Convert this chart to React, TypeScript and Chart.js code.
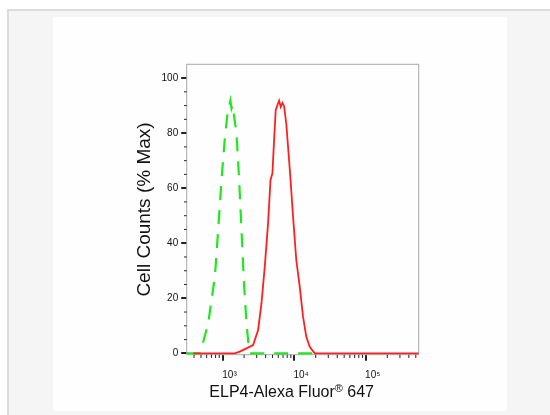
import React, { useEffect, useRef } from "react";
import { Chart, registerables } from "chart.js";

Chart.register(...registerables);

// ---- axis ranges / ticks ----
const X_MIN = 316;
const X_MAX = 549000;
const Y_MIN = -0.5;
const Y_MAX = 105;
const X_MAJOR = [1000, 10000, 100000];
const X_TICK_LABELS = ["10³", "10⁴", "10⁵"];
const X_MINOR = [
  400, 500, 600, 700, 800, 900,
  2000, 3000, 4000, 5000, 6000, 7000, 8000, 9000,
  20000, 30000, 40000, 50000, 60000, 70000, 80000, 90000,
  200000, 300000, 400000, 500000,
];
const Y_MAJOR = [0, 20, 40, 60, 80, 100];
const Y_MINOR = [5, 10, 15, 25, 30, 35, 45, 50, 55, 65, 70, 75, 85, 90, 95];

// ---- series: isotype control (green dashed) ----
const GREEN_X = [316, 417, 479, 509, 631, 782, 869, 968, 1072, 1175, 1288, 1334, 1380, 1567, 1706, 1841, 1995, 2163, 2344, 2512, 5000, 19364];
const GREEN_Y = [0, 0, 0, 1.8, 10.9, 27.8, 44.8, 63, 77.5, 87.2, 91.8, 89, 90.2, 80, 63, 44.8, 25.4, 10.9, 1.2, 0, 0, 0];

// ---- series: ELP4 (red solid) ----
const RED_X = [390, 1479, 1738, 2163, 2673, 3141, 3499, 3890, 4325, 4677, 4977, 5248, 5534, 5848, 6166, 6501, 6871, 7244, 7762, 8710, 9661, 10715, 11967, 13305, 14791, 16520, 19364, 549000];
const RED_Y = [0, 0, 0.6, 1.8, 3, 8.5, 18.2, 31.5, 47.2, 63, 65.4, 77.5, 88.4, 90.2, 91.8, 89.5, 91, 89.8, 83.5, 66.6, 49.6, 33.9, 24.2, 13.3, 6, 2.4, 0, 0];

const Y_TITLE = "Cell Counts (% Max)";

const decorPlugin = {
  id: "decor",
  beforeDatasetsDraw(chart: any) {
    const { ctx, chartArea: a, scales } = chart;
    ctx.save();
    ctx.strokeStyle = "#a8a8a8";
    ctx.lineWidth = 1;
    ctx.strokeRect(a.left, a.top, a.right - a.left, a.bottom - a.top);
    ctx.strokeStyle = "#222";
    ctx.lineWidth = 1;
    ctx.beginPath();
    for (const v of X_MINOR) {
      const x = scales.x.getPixelForValue(v);
      ctx.moveTo(x, a.bottom);
      ctx.lineTo(x, a.bottom + 3.3);
    }
    for (const v of Y_MINOR) {
      const y = scales.y.getPixelForValue(v);
      ctx.moveTo(a.left, y);
      ctx.lineTo(a.left - 2.7, y);
    }
    ctx.stroke();
    ctx.restore();
  },
};

export default function App() {
  const ref = useRef<HTMLCanvasElement | null>(null);

  useEffect(() => {
    if (!ref.current) return;
    const chart = new Chart(ref.current, {
      type: "scatter",
      data: {
        datasets: [
          {
            label: "ELP4",
            data: RED_X.map((x, i) => ({ x, y: RED_Y[i] })),
            showLine: true,
            borderColor: "#ff1f1f",
            borderWidth: 1.8,
            pointRadius: 0,
            tension: 0,
          },
          {
            label: "Isotype",
            data: GREEN_X.map((x, i) => ({ x, y: GREEN_Y[i] })),
            showLine: true,
            borderColor: "#1ee81e",
            borderWidth: 2.2,
            borderDash: [14, 10],
            pointRadius: 0,
            tension: 0,
          },
        ],
      },
      options: {
        animation: false,
        responsive: true,
        maintainAspectRatio: false,
        layout: { padding: { left: 133.6, top: 64.3, right: 131.3, bottom: 30.3 } },
        plugins: { legend: { display: false }, tooltip: { enabled: false } },
        scales: {
          x: {
            type: "logarithmic",
            min: X_MIN,
            max: X_MAX,
            border: { display: false },
            grid: { drawOnChartArea: false, drawTicks: true, tickLength: 6, lineWidth: 2, color: "#222", tickColor: "#222" },
            afterBuildTicks: (s: any) => {
              s.ticks = X_MAJOR.map((v) => ({ value: v }));
            },
            afterFit: (s: any) => {
              s.height = 30;
            },
            ticks: {
              autoSkip: false,
              maxRotation: 0,
              minRotation: 0,
              padding: 9,
              labelOffset: 7,
              color: "#111",
              font: { family: "'Liberation Sans Narrow', 'Liberation Sans', Arial", size: 10 },
              callback: (v: any) => {
                const i = X_MAJOR.indexOf(Number(v));
                return i >= 0 ? X_TICK_LABELS[i] : "";
              },
            },
          },
          y: {
            type: "linear",
            min: Y_MIN,
            max: Y_MAX,
            border: { display: false },
            grid: { drawOnChartArea: false, drawTicks: true, tickLength: 5.5, lineWidth: 2, color: "#222", tickColor: "#222" },
            afterBuildTicks: (s: any) => {
              s.ticks = Y_MAJOR.map((v) => ({ value: v }));
            },
            afterFit: (s: any) => {
              s.width = 53.1;
            },
            ticks: {
              padding: 3,
              color: "#111",
              font: { family: "'Liberation Sans Narrow', 'Liberation Sans', Arial", size: 10 },
            },
            title: {
              display: true,
              text: Y_TITLE,
              color: "#111",
              padding: 0,
              font: { family: "'Liberation Sans', Arial", size: 19 },
            },
          },
        },
      },
      plugins: [decorPlugin],
    } as any);
    return () => chart.destroy();
  }, []);

  return (
    <div style={{ position: "absolute", left: 0, top: 0, width: 550, height: 415, overflow: "hidden", background: "#ffffff" }}>
      <div
        style={{
          position: "absolute",
          left: 7,
          top: 9,
          width: 600,
          height: 450,
          borderLeft: "2px solid #dcdcdc",
          borderTop: "2px solid #dcdcdc",
          background: "#f5f5f5",
        }}
      />
      <div style={{ position: "absolute", left: 52.5, top: 17, width: 454.5, height: 394, background: "#fefefe" }} />
      <div style={{ position: "absolute", left: 0, top: 0, width: 550, height: 415 }}>
        <canvas ref={ref} />
      </div>
      <div
        style={{
          position: "absolute",
          left: 141.7,
          top: 383.8,
          width: 300,
          textAlign: "center",
          fontFamily: "'Liberation Sans', Arial, sans-serif",
          fontSize: 16,
          lineHeight: "16px",
          color: "#111",
          whiteSpace: "nowrap",
        }}
      >
        ELP4-Alexa Fluor
        <span style={{ fontSize: 11, position: "relative", top: -5 }}>®</span> 647
      </div>
    </div>
  );
}
